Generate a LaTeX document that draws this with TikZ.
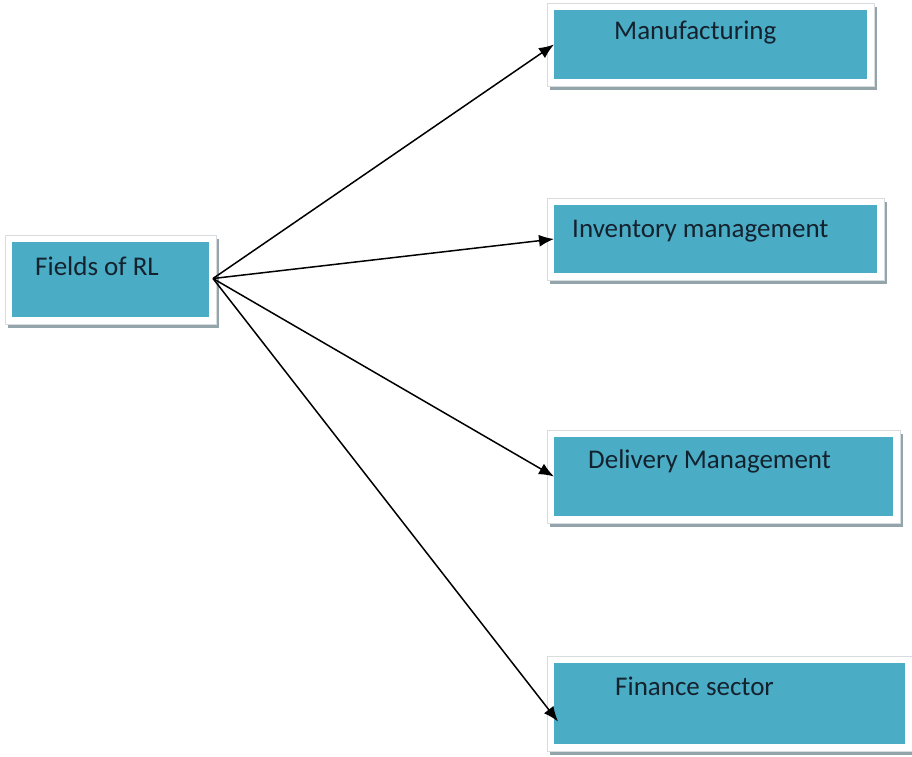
\documentclass[tikz,border=0pt]{standalone}
\usepackage{fontspec}
\setmainfont{Carlito}
\usetikzlibrary{calc,arrows.meta,backgrounds}
\definecolor{boxblue}{HTML}{4BACC6}
\definecolor{shadowc}{HTML}{93A5AB}
\definecolor{outlinec}{HTML}{D8DCDE}
\definecolor{txtc}{HTML}{14222E}
\tikzset{
  box/.style={fill=boxblue, draw=none, inner sep=0pt, outer sep=0pt, anchor=north west},
  lbl/.style={text=txtc, inner sep=0pt, anchor=base west, font=\fontsize{27}{32}\selectfont},
  arr/.style={draw=black, line width=1.5pt, -{Latex[length=15pt,width=12pt]}}
}
\newcommand\boxdeco[1]{%
  \fill[shadowc] ($(#1.north west)+(-4,-3)$) rectangle ($(#1.south east)+(10,11)$);
  \filldraw[fill=white, draw=outlinec, line width=0.6pt] ($(#1.north west)+(-7,-7)$) rectangle ($(#1.south east)+(7,7)$);
}
\begin{document}
\begin{tikzpicture}[x=1pt,y=-1pt]
\useasboundingbox (0,0) rectangle (912,756);
% boxes
\node[box, minimum width=197pt, minimum height=75pt] (f) at (12,242) {};
\node[box, minimum width=313pt, minimum height=69pt] (m) at (554,10) {};
\node[box, minimum width=323pt, minimum height=68pt] (i) at (554,205) {};
\node[box, minimum width=339pt, minimum height=79pt] (d) at (554,437) {};
\node[box, minimum width=351pt, minimum height=81pt] (n) at (554,663) {};
\begin{pgfonlayer}{background}
  \fill[white] (0,0) rectangle (912,756);
  \boxdeco{f}\boxdeco{m}\boxdeco{i}\boxdeco{d}\boxdeco{n}
\end{pgfonlayer}
% labels
\node[lbl] (tf) at (35,275) {Fields of RL};
\node[lbl] (tm) at (614,39) {Manufacturing};
\node[lbl] (ti) at (572,237) {Inventory management};
\node[lbl] (td) at (588,468) {Delivery Management};
\node[lbl] (tn) at (615,695) {Finance sector};
% connectors
\coordinate (hub) at ($(f.east)+(4,-1)$);
\coordinate (nend) at ($(n.west)+(4,18)$);
\draw[arr] (hub) -- (m.west);
\draw[arr] (hub) -- (i.west);
\draw[arr] (hub) -- (d.west);
\draw[arr] (hub) -- (nend);
\end{tikzpicture}
\end{document}
